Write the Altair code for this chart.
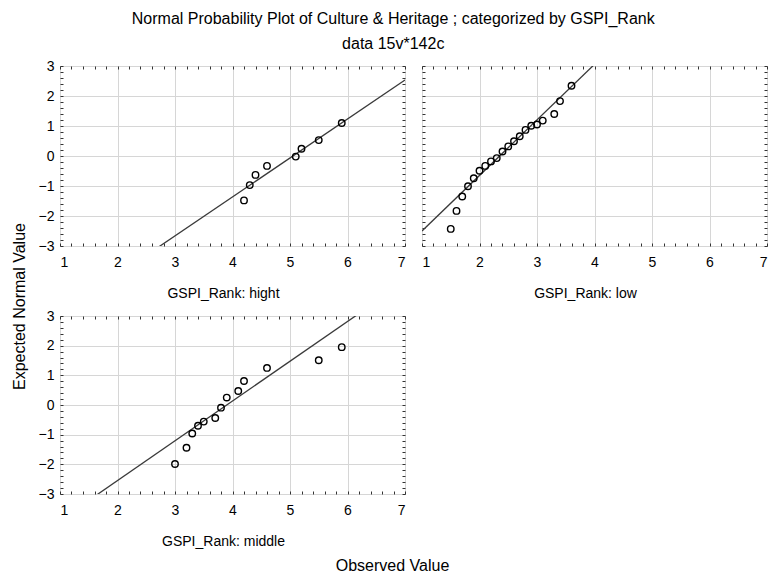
import altair as alt
import pandas as pd

# ---- data ----
hight_x = [4.2, 4.3, 4.4, 4.6, 5.1, 5.2, 5.5, 5.9]
hight_y = [-1.48, -0.97, -0.63, -0.33, -0.02, 0.24, 0.53, 1.10]

low_x = [1.5, 1.6, 1.7, 1.8, 1.9, 2.0, 2.1, 2.2, 2.3, 2.4,
         2.5, 2.6, 2.7, 2.8, 2.9, 3.0, 3.1, 3.3, 3.4, 3.6]
low_y = [-2.43, -1.83, -1.35, -1.01, -0.74, -0.49, -0.33, -0.18, -0.07, 0.15,
         0.32, 0.49, 0.66, 0.87, 1.01, 1.05, 1.18, 1.40, 1.83, 2.34]

middle_x = [3.0, 3.2, 3.3, 3.4, 3.5, 3.7, 3.8, 3.9, 4.1, 4.2, 4.6, 5.5, 5.9]
middle_y = [-1.99, -1.44, -0.96, -0.70, -0.56, -0.44, -0.09, 0.25, 0.47, 0.81, 1.25, 1.51, 1.95]

# reference line: expected = (observed - mean) / sd
fit_mean = {"hight": 5.05, "low": 2.35, "middle": 3.90}
fit_sd = {"hight": 0.77, "low": 0.54, "middle": 0.746}

x_ticks = [1, 2, 3, 4, 5, 6, 7]
y_ticks = [-3, -2, -1, 0, 1, 2, 3]
x_minor = [round(1 + 0.2 * i, 1) for i in range(31)]
y_minor = [round(-3 + 0.2 * i, 1) for i in range(31)]

FONT = "Liberation Sans"
GRID = "#d6d6d6"
TICK = "#333333"
W = 345


def minor_axis(orient, values, **extra):
    kw = dict(orient=orient, values=values, labels=False, grid=False, domain=False,
              ticks=True, tickSize=3, tickColor=TICK, offset=-3, title=None)
    kw.update(extra)
    return alt.Axis(**kw)


def panel(name, xs, ys, show_y_labels, height, y_title=None, obs_title=False):
    pts = pd.DataFrame({"x": xs, "y": ys})
    m, s = fit_mean[name], fit_sd[name]
    ln = pd.DataFrame({"x": [1, 7], "y": [(1 - m) / s, (7 - m) / s]})
    xs_ = alt.Scale(domain=[1, 7], nice=False, zero=False)
    ys_ = alt.Scale(domain=[-3, 3], nice=False, zero=False)

    yaxis_kw = dict(values=y_ticks, format="d", grid=True, gridColor=GRID, ticks=False,
                    tickSize=0, domain=False, labels=show_y_labels, labelFontSize=14,
                    labelFont=FONT, labelColor="black", labelPadding=6, labelOverlap=False,
                    labelBaseline="middle")
    if y_title:
        yaxis_kw.update(title=y_title, titleFont=FONT, titleFontSize=16,
                        titleFontWeight="normal", titleColor="black",
                        titleX=-33, titleY=240, titleAngle=-90)
    else:
        yaxis_kw.update(title=None)
    yaxis = alt.Axis(**yaxis_kw)

    xaxis = alt.Axis(values=x_ticks, format="d", grid=True, gridColor=GRID, ticks=False,
                     tickSize=0, domain=False, labelFontSize=14, labelFont=FONT,
                     labelColor="black", labelPadding=9, labelOverlap=False,
                     title="GSPI_Rank: " + name, titleFont=FONT, titleFontSize=14,
                     titleFontWeight="normal", titleColor="black",
                     titleX=163, titleY=47, titleBaseline="middle")

    line = alt.Chart(ln).mark_line(clip=True, color="#3a3a3a", strokeWidth=1.3).encode(
        x=alt.X("x:Q", scale=xs_, axis=xaxis),
        y=alt.Y("y:Q", scale=ys_, axis=yaxis),
    )
    points = alt.Chart(pts).mark_point(shape="circle", filled=False, color="black",
                                       size=42, strokeWidth=1.4, opacity=1).encode(
        x=alt.X("x:Q", scale=xs_, axis=xaxis), y=alt.Y("y:Q", scale=ys_, axis=yaxis)
    )
    main = alt.layer(line, points)

    if obs_title:
        bottom_axis = minor_axis("bottom", x_minor, title="Observed Value", titleFont=FONT,
                                 titleFontSize=16, titleFontWeight="normal",
                                 titleColor="black", titleX=332, titleY=74,
                                 titleBaseline="middle")
    else:
        bottom_axis = minor_axis("bottom", x_minor)
    minor_a = alt.Chart(pts).mark_point(opacity=0).encode(
        x=alt.X("x:Q", scale=xs_, axis=bottom_axis),
        y=alt.Y("y:Q", scale=ys_, axis=minor_axis("left", y_minor)),
    )
    minor_b = alt.Chart(pts).mark_point(opacity=0).encode(
        x=alt.X("x:Q", scale=xs_, axis=minor_axis("top", x_minor)),
        y=alt.Y("y:Q", scale=ys_, axis=minor_axis("right", y_minor)),
    )
    return alt.layer(main, minor_a, minor_b).resolve_axis(
        x="independent", y="independent").properties(width=W, height=height)


p1 = panel("hight", hight_x, hight_y, True, 180, y_title="Expected Normal Value")
p2 = panel("low", low_x, low_y, False, 180)
p3 = panel("middle", middle_x, middle_y, True, 178, obs_title=True)

chart = alt.concat(
    p1, p2, p3, columns=2, spacing=alt.RowColnumber(row=70, column=17), bounds="flush"
).properties(
    title=alt.TitleParams(
        text="Normal Probability Plot of Culture & Heritage ; categorized by GSPI_Rank",
        subtitle="data 15v*142c",
        font=FONT, fontSize=16, fontWeight="normal", color="black",
        subtitleFont=FONT, subtitleFontSize=16, subtitleColor="black",
        subtitlePadding=9, anchor="middle", offset=7, dx=4,
    ),
    padding={"left": 10, "top": 10, "right": 0, "bottom": 0},
).configure_view(stroke="black", strokeWidth=1.3).configure(background="white")

chart.save("out.html", embed_options={"renderer": "svg", "actions": False})
